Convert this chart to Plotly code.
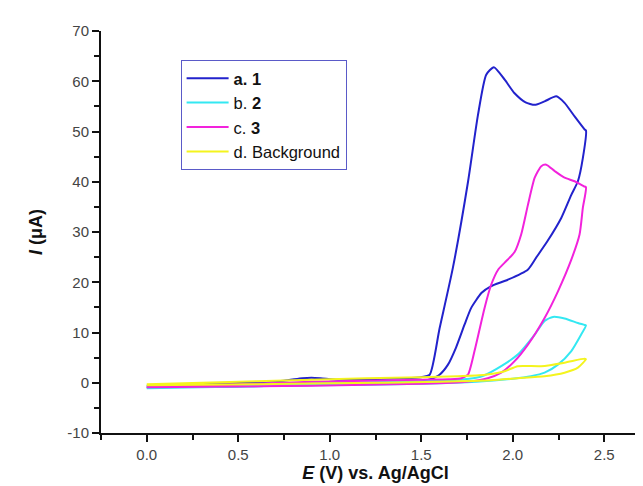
import plotly.graph_objects as go

# ---- data (E in V, I in uA), forward then reverse sweep ----
a_E = [0.0, 0.2, 0.4, 0.6, 0.75, 0.85, 0.9, 0.95, 1.05, 1.2, 1.4, 1.5, 1.546, 1.6, 1.673, 1.756, 1.81, 1.855, 1.897, 1.956, 2.01, 2.07, 2.12, 2.174, 2.238, 2.283, 2.338, 2.393, 2.4,
       2.383, 2.356, 2.32, 2.265, 2.19, 2.128, 2.082, 1.973, 1.88, 1.83, 1.773, 1.737, 1.69, 1.646, 1.60, 1.55, 1.5, 1.3, 1.0, 0.7, 0.4, 0.0]
a_I = [-0.6, -0.4, -0.2, 0.1, 0.4, 0.9, 1.0, 0.9, 0.6, 0.7, 0.9, 1.1, 1.6, 10.8, 22.9, 40.1, 53.3, 61.3, 62.8, 60.3, 57.6, 55.8, 55.3, 56.0, 57.0, 55.7, 53.0, 50.4, 50.2,
       44.7, 40.1, 37.4, 32.8, 28.2, 24.9, 22.5, 20.5, 19.2, 17.9, 14.9, 11.6, 7.0, 3.6, 1.6, 0.7, 0.2, -0.1, -0.4, -0.6, -0.8, -0.9]

b_E = [0.0, 0.3, 0.6, 0.9, 1.2, 1.5, 1.7, 1.8, 1.846, 1.937, 2.027, 2.12, 2.174, 2.22, 2.283, 2.356, 2.393, 2.4,
       2.374, 2.32, 2.247, 2.174, 2.10, 2.0, 1.8, 1.5, 1.2, 0.9, 0.6, 0.3, 0.0]
b_I = [-1.0, -0.7, -0.4, -0.1, 0.1, 0.3, 0.6, 1.0, 1.5, 3.3, 5.6, 9.6, 12.3, 13.1, 12.8, 11.9, 11.5, 11.4,
       9.6, 6.3, 3.6, 2.0, 1.3, 0.8, 0.2, -0.2, -0.4, -0.5, -0.7, -0.9, -1.1]

c_E = [0.0, 0.3, 0.6, 0.9, 1.2, 1.5, 1.65, 1.72, 1.755, 1.791, 1.846, 1.882, 1.92, 1.956, 1.983, 2.01, 2.046, 2.083, 2.12, 2.156, 2.183, 2.23, 2.283, 2.338, 2.389, 2.4,
       2.383, 2.365, 2.32, 2.247, 2.174, 2.083, 2.01, 1.937, 1.863, 1.75, 1.5, 1.2, 0.9, 0.6, 0.3, 0.0]
c_I = [-0.9, -0.5, -0.2, 0.2, 0.4, 0.6, 0.7, 0.9, 1.6, 6.3, 14.9, 19.5, 22.5, 23.9, 24.9, 26.0, 29.5, 35.4, 40.8, 43.1, 43.4, 42.1, 40.8, 40.1, 39.1, 38.9,
       34.8, 29.5, 24.5, 18.2, 12.9, 7.6, 4.3, 2.0, 0.9, 0.2, -0.2, -0.4, -0.6, -0.7, -0.8, -0.9]

d_E = [0.0, 0.3, 0.6, 0.9, 1.2, 1.5, 1.7, 1.85, 1.956, 2.027, 2.155, 2.283, 2.393, 2.4,
       2.356, 2.283, 2.174, 2.027, 1.88, 1.6, 1.3, 1.0, 0.6, 0.3, 0.0]
d_I = [-0.3, 0.0, 0.3, 0.6, 0.9, 1.1, 1.3, 1.6, 2.3, 3.3, 3.3, 4.0, 4.8, 4.7,
       3.0, 2.0, 1.3, 0.9, 0.5, 0.2, 0.0, -0.1, -0.3, -0.4, -0.5]

names = ["<b>a. 1</b>", "b. <b>2</b>", "c. <b>3</b>", "d. Background"]
colors = ["#2222cc", "#33e8f2", "#f222dc", "#f4f41e"]
series = [(a_E, a_I), (b_E, b_I), (c_E, c_I), (d_E, d_I)]

x_ticks = [0.0, 0.5, 1.0, 1.5, 2.0, 2.5]
y_ticks = [-10, 0, 10, 20, 30, 40, 50, 60, 70]
y_labels = ["-10", "0", "10", "20", "30", "40", "50", "60", "70"]

fig = go.Figure()
for (xs, ys), nm, col in zip(series, names, colors):
    fig.add_trace(go.Scatter(x=xs, y=ys, mode="lines", name=nm,
                             line=dict(color=col, width=2, shape="spline", smoothing=0.6)))

font_family = "Liberation Sans, Arial, sans-serif"
fig.update_layout(
    width=643, height=486,
    margin=dict(l=93, r=1, t=23, b=61),
    paper_bgcolor="white", plot_bgcolor="white",
    font=dict(family=font_family, color="#333333"),
    showlegend=True,
    legend=dict(x=0.145, y=0.928, xanchor="left", yanchor="top",
                bordercolor="#5a5ac8", borderwidth=1, bgcolor="rgba(255,255,255,0)",
                font=dict(size=16.5, color="#111111", family=font_family),
                tracegroupgap=0, itemwidth=42),
    xaxis=dict(range=[-0.25, 2.75], showgrid=False, zeroline=False,
               showline=True, linecolor="#111111", linewidth=2,
               ticks="outside", ticklen=7, tickwidth=2, tickcolor="#111111",
               tickvals=x_ticks, tickformat=".1f",
               minor=dict(ticks="outside", ticklen=5, tickwidth=2, tickcolor="#111111", dtick=0.25, tick0=0),
               tickfont=dict(size=15, color="#444444"),
               title=dict(text="<b><i>E</i> (V) vs. Ag/AgCl</b>", font=dict(size=18, color="#111111"), standoff=2)),
    yaxis=dict(range=[-10, 70], showgrid=False, zeroline=False,
               showline=True, linecolor="#111111", linewidth=2,
               ticks="outside", ticklen=7, tickwidth=2, tickcolor="#111111",
               tickvals=y_ticks, ticktext=y_labels,
               minor=dict(ticks="outside", ticklen=5, tickwidth=2, tickcolor="#111111", dtick=5, tick0=0),
               tickfont=dict(size=15, color="#444444"),
               title=dict(text="<b><i>I</i> (μA)</b>", font=dict(size=18, color="#111111"), standoff=20)),
)

fig.write_html("out.html")
